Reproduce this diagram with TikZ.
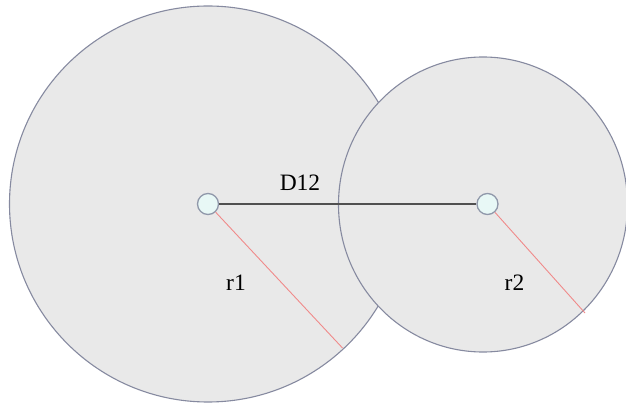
\documentclass[tikz,border=0pt]{standalone}
\usepackage{fontspec}
\setmainfont{Liberation Serif}
\usetikzlibrary{shapes.geometric}
\definecolor{discfill}{HTML}{E9E9E9}
\definecolor{discline}{HTML}{868AA0}
\definecolor{dotfill}{HTML}{E8F8F6}
\definecolor{dotline}{HTML}{9098AA}
\definecolor{radline}{HTML}{F08A8A}
\definecolor{linkline}{HTML}{505050}
\tikzset{
  disc/.style={ellipse, draw=discline, fill=discfill, line width=1.1pt, inner sep=0pt},
  dot/.style={circle, draw=dotline, fill=dotfill, line width=1.3pt, minimum size=21pt, inner sep=0pt},
  radius line/.style={draw=radline, line width=0.9pt},
  link/.style={draw=linkline, line width=1.1pt},
  lbl/.style={font=\fontsize{23.5}{26}\selectfont, inner sep=0pt, text=black}
}
\begin{document}
\begin{tikzpicture}[x=1pt,y=-1pt]
\useasboundingbox (0,0) rectangle (626,403);
\node[disc, minimum width=397pt, minimum height=396pt] (big) at (208,204) {};
\node[disc, minimum width=289pt, minimum height=295pt] (small) at (483,204.5) {};
\node[dot] (c1) at (208,204) {};
\node[dot] (c2) at (487.5,204) {};
\coordinate (e1) at (342.5,348);
\coordinate (e2) at (585,313);
\draw[link] (c1) -- (c2);
\draw[radius line] (c1) -- (e1);
\draw[radius line] (c2) -- (e2);
\node[lbl] (d12) at (300,182.5) {D12};
\node[lbl] (r1) at (236,282.5) {r1};
\node[lbl] (r2) at (514.5,282.5) {r2};
\end{tikzpicture}
\end{document}
